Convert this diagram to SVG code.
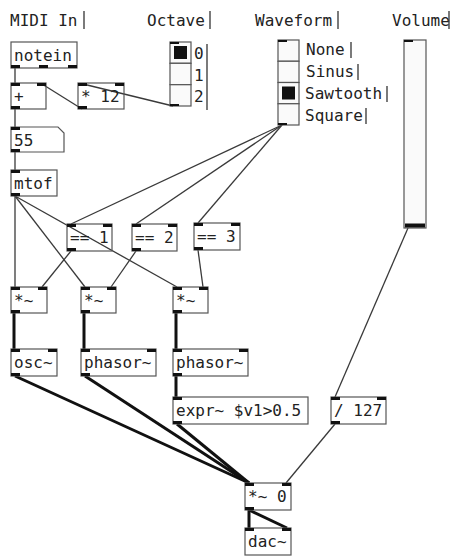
<svg xmlns="http://www.w3.org/2000/svg" width="455" height="557" viewBox="0 0 455 557">
<style>
text{font-family:"DejaVu Sans Mono","Liberation Mono",monospace;font-size:16px;fill:#222}
.b{fill:none;stroke:#555;stroke-width:1.2}
.io{fill:#111}
.c{stroke:#3a3a3a;stroke-width:1.3;fill:none}
.s{stroke:#111;stroke-width:3;fill:none}
.bar{stroke:#333;stroke-width:1.3}
.cell{fill:#fafafa;stroke:#555;stroke-width:1.2}
</style>
<rect width="455" height="557" fill="#fff"/>
<g id="connectors">
<line class="c" x1="15" y1="68" x2="15" y2="83"/>
<line class="c" x1="82" y1="109" x2="42" y2="84"/>
<line class="c" x1="173" y1="106" x2="83" y2="84"/>
<line class="c" x1="15" y1="109" x2="15" y2="127"/>
<line class="c" x1="15" y1="152" x2="15" y2="170"/>
<line class="c" x1="15" y1="196" x2="15" y2="287"/>
<line class="c" x1="15" y1="196" x2="85" y2="287"/>
<line class="c" x1="15" y1="196" x2="177" y2="287"/>
<line class="c" x1="282" y1="125" x2="71" y2="224"/>
<line class="c" x1="282" y1="125" x2="136" y2="224"/>
<line class="c" x1="282" y1="125" x2="198" y2="223"/>
<line class="c" x1="71" y1="251" x2="42" y2="287"/>
<line class="c" x1="136" y1="251" x2="111" y2="287"/>
<line class="c" x1="198" y1="250" x2="203" y2="287"/>
<line class="c" x1="408" y1="228" x2="335" y2="397"/>
<line class="c" x1="335" y1="424" x2="286" y2="483"/>
<line class="s" x1="14" y1="313" x2="14" y2="349"/>
<line class="s" x1="84" y1="313" x2="84" y2="349"/>
<line class="s" x1="176" y1="313" x2="176" y2="349"/>
<line class="s" x1="176" y1="376" x2="176" y2="397"/>
<line class="s" x1="15" y1="376" x2="249" y2="483"/>
<line class="s" x1="85" y1="376" x2="249" y2="483"/>
<line class="s" x1="177" y1="424" x2="249" y2="483"/>
<line class="s" x1="249" y1="510" x2="249" y2="528"/>
<line class="s" x1="249" y1="510" x2="287" y2="528"/>
</g>
<g id="label-midi"><text x="10" y="26">MIDI In</text><line class="bar" x1="84" y1="11" x2="84" y2="29"/></g>
<g id="label-octave"><text x="147" y="26">Octave</text><line class="bar" x1="210" y1="11" x2="210" y2="29"/></g>
<g id="label-waveform"><text x="255" y="26">Waveform</text><line class="bar" x1="338" y1="11" x2="338" y2="29"/></g>
<g id="label-volume"><text x="392" y="26">Volume</text><line class="bar" x1="449" y1="11" x2="449" y2="29"/></g>
<g id="notein"><rect class="b" x="11" y="42" width="66" height="26"/><text x="14" y="61">notein</text>
<rect class="io" x="11" y="65" width="9" height="3"/><rect class="io" x="39" y="65" width="9" height="3"/><rect class="io" x="68" y="65" width="9" height="3"/></g>
<g id="plus"><rect class="b" x="11" y="83" width="35" height="26"/><text x="14" y="102">+</text>
<rect class="io" x="11" y="83" width="9" height="3"/><rect class="io" x="37" y="83" width="9" height="3"/><rect class="io" x="11" y="106" width="9" height="3"/></g>
<g id="times12"><rect class="b" x="78" y="83" width="46" height="26"/><text x="81" y="102">* 12</text>
<rect class="io" x="78" y="83" width="9" height="3"/><rect class="io" x="115" y="83" width="9" height="3"/><rect class="io" x="78" y="106" width="9" height="3"/></g>
<g id="octave-radio">
<rect class="cell" x="170" y="42" width="21" height="21.3"/><rect class="cell" x="170" y="63.3" width="21" height="21.3"/><rect class="cell" x="170" y="84.7" width="21" height="21.3"/>
<rect fill="#111" x="174" y="46" width="13" height="13"/>
<rect class="io" x="170" y="42" width="9" height="2"/><rect class="io" x="170" y="104" width="9" height="2"/>
<text x="194" y="59">0</text><text x="194" y="81">1</text><text x="194" y="102">2</text>
<line class="bar" x1="207" y1="44" x2="207" y2="110"/></g>
<g id="waveform-radio">
<rect class="cell" x="278" y="40" width="21" height="21.25"/><rect class="cell" x="278" y="61.25" width="21" height="21.25"/><rect class="cell" x="278" y="82.5" width="21" height="21.25"/><rect class="cell" x="278" y="103.75" width="21" height="21.25"/>
<rect fill="#111" x="282" y="86.5" width="13" height="13"/>
<rect class="io" x="278" y="40" width="9" height="2"/><rect class="io" x="278" y="123" width="9" height="2"/>
<text x="306" y="55">None</text><line class="bar" x1="351" y1="42" x2="351" y2="58"/>
<text x="306" y="77">Sinus</text><line class="bar" x1="358" y1="64" x2="358" y2="80"/>
<text x="305" y="99">Sawtooth</text><line class="bar" x1="387" y1="86" x2="387" y2="102"/>
<text x="305" y="121">Square</text><line class="bar" x1="366" y1="108" x2="366" y2="124"/></g>
<g id="volume-slider"><rect class="cell" x="404" y="40" width="22" height="188"/>
<rect class="io" x="404" y="40" width="9" height="2"/><rect fill="#111" x="405" y="223.5" width="20" height="4"/></g>
<g id="num55"><path class="b" d="M11 127H58L64 133V152H11Z"/><text x="14" y="146">55</text>
<rect class="io" x="11" y="127" width="9" height="3"/><rect class="io" x="11" y="149" width="9" height="3"/></g>
<g id="mtof"><rect class="b" x="11" y="170" width="46" height="26"/><text x="14" y="189">mtof</text>
<rect class="io" x="11" y="170" width="9" height="3"/><rect class="io" x="11" y="193" width="9" height="3"/></g>
<g id="eq1"><rect class="b" x="67" y="224" width="45" height="27"/><text x="70" y="243">== 1</text>
<rect class="io" x="67" y="224" width="9" height="3"/><rect class="io" x="103" y="224" width="9" height="3"/><rect class="io" x="67" y="248" width="9" height="3"/></g>
<g id="eq2"><rect class="b" x="132" y="224" width="45" height="27"/><text x="135" y="243">== 2</text>
<rect class="io" x="132" y="224" width="9" height="3"/><rect class="io" x="168" y="224" width="9" height="3"/><rect class="io" x="132" y="248" width="9" height="3"/></g>
<g id="eq3"><rect class="b" x="194" y="223" width="46" height="27"/><text x="197" y="242">== 3</text>
<rect class="io" x="194" y="223" width="9" height="3"/><rect class="io" x="231" y="223" width="9" height="3"/><rect class="io" x="194" y="247" width="9" height="3"/></g>
<g id="mul1"><rect class="b" x="11" y="287" width="36" height="26"/><text x="14" y="306">*~</text>
<rect class="io" x="11" y="287" width="9" height="3"/><rect class="io" x="38" y="287" width="9" height="3"/><rect class="io" x="11" y="310" width="9" height="3"/></g>
<g id="mul2"><rect class="b" x="81" y="287" width="35" height="26"/><text x="84" y="306">*~</text>
<rect class="io" x="81" y="287" width="9" height="3"/><rect class="io" x="107" y="287" width="9" height="3"/><rect class="io" x="81" y="310" width="9" height="3"/></g>
<g id="mul3"><rect class="b" x="173" y="287" width="35" height="26"/><text x="176" y="306">*~</text>
<rect class="io" x="173" y="287" width="9" height="3"/><rect class="io" x="199" y="287" width="9" height="3"/><rect class="io" x="173" y="310" width="9" height="3"/></g>
<g id="osc"><rect class="b" x="11" y="349" width="46" height="27"/><text x="14" y="368">osc~</text>
<rect class="io" x="11" y="349" width="9" height="3"/><rect class="io" x="48" y="349" width="9" height="3"/><rect class="io" x="11" y="373" width="9" height="3"/></g>
<g id="phasor1"><rect class="b" x="81" y="349" width="75" height="27"/><text x="84" y="368">phasor~</text>
<rect class="io" x="81" y="349" width="9" height="3"/><rect class="io" x="147" y="349" width="9" height="3"/><rect class="io" x="81" y="373" width="9" height="3"/></g>
<g id="phasor2"><rect class="b" x="173" y="349" width="75" height="27"/><text x="176" y="368">phasor~</text>
<rect class="io" x="173" y="349" width="9" height="3"/><rect class="io" x="239" y="349" width="9" height="3"/><rect class="io" x="173" y="373" width="9" height="3"/></g>
<g id="expr"><rect class="b" x="173" y="397" width="135" height="27"/><text x="176" y="416">expr~ $v1&gt;0.5</text>
<rect class="io" x="173" y="397" width="9" height="3"/><rect class="io" x="173" y="421" width="9" height="3"/></g>
<g id="div127"><rect class="b" x="331" y="397" width="55" height="27"/><text x="334" y="416">/ 127</text>
<rect class="io" x="331" y="397" width="9" height="3"/><rect class="io" x="377" y="397" width="9" height="3"/><rect class="io" x="331" y="421" width="9" height="3"/></g>
<g id="mul0"><rect class="b" x="245" y="483" width="46" height="27"/><text x="248" y="502">*~ 0</text>
<rect class="io" x="245" y="483" width="9" height="3"/><rect class="io" x="282" y="483" width="9" height="3"/><rect class="io" x="245" y="507" width="9" height="3"/></g>
<g id="dac"><rect class="b" x="245" y="528" width="46" height="27"/><text x="248" y="547">dac~</text>
<rect class="io" x="245" y="528" width="9" height="3"/><rect class="io" x="282" y="528" width="9" height="3"/></g>
</svg>
